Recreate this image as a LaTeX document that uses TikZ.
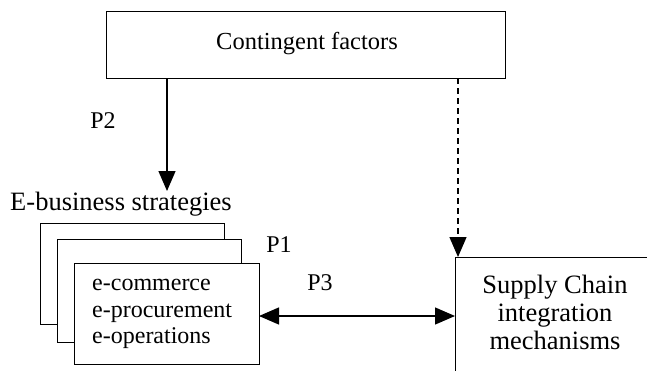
\documentclass[tikz,border=0pt]{standalone}
\usepackage{fontspec}
\setmainfont{Liberation Serif}
\usetikzlibrary{arrows.meta}
\begin{document}
\begin{tikzpicture}[x=1pt,y=-1pt,
  box/.style={draw,line width=1.4pt,fill=white,inner sep=0pt,anchor=north west},
  lbl/.style={font=\fontsize{24}{26.5}\selectfont,inner sep=0pt},
  big/.style={font=\fontsize{26.5}{28}\selectfont},
  conn/.style={line width=1.3pt,-{Triangle[length=20pt,width=17pt]}},
  dconn/.style={line width=1.3pt,{Triangle[length=20pt,width=17pt]}-{Triangle[length=20pt,width=17pt]}}]
\useasboundingbox (0,0) rectangle (647,370);
% top box
\node[box,minimum width=399pt,minimum height=67pt] (cf) at (106,11) {};
\node[lbl,font=\fontsize{24.5}{26.5}\selectfont] (cft) at (307,44) {Contingent factors};
% stacked boxes
\node[box,minimum width=184pt,minimum height=101pt] (b1) at (40,223) {};
\node[box,minimum width=184pt,minimum height=103pt] (b2) at (57,239) {};
\node[box,minimum width=185pt,minimum height=101pt] (b3) at (74,263) {};
\node[lbl,align=left,anchor=west] (b3t) at (92,314) {e-commerce\\e-procurement\\e-operations};
\node[lbl,big] (ebiz) at (121,204) {E-business strategies};
% supply box
\node[box,minimum width=195pt,minimum height=120pt] (sc) at (455,257) {};
\node[lbl,big,align=center] (sct) at (555,312) {Supply Chain\\integration\\mechanisms};
% labels
\node[lbl] (p2) at (103,121) {P2};
\node[lbl] (p1) at (279,245) {P1};
\node[lbl] (p3) at (320,283) {P3};
% connectors
\coordinate (p2top) at (167,78);
\coordinate (p2end) at (167,191);
\coordinate (dtop) at (458,78);
\coordinate (dend) at (458,257);
\coordinate (hl) at (259,316);
\coordinate (hr) at (455,316);
\draw[conn] (p2top) -- (p2end);
\draw[conn,dash pattern=on 6pt off 4pt] (dtop) -- (dend);
\draw[dconn] (hl) -- (hr);
\end{tikzpicture}
\end{document}
